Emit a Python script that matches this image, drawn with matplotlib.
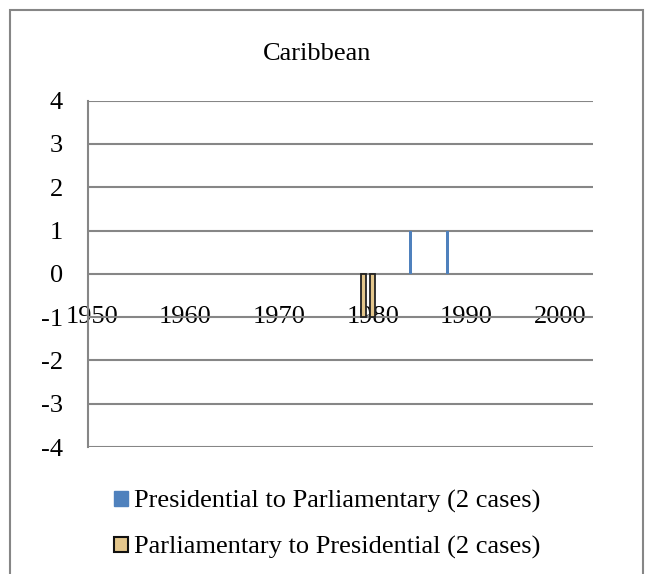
import matplotlib.pyplot as plt
from matplotlib.patches import Rectangle, Patch

plt.rcParams['font.family'] = ['Liberation Serif', 'DejaVu Serif']
plt.rcParams['axes.unicode_minus'] = False

title = 'Caribbean'
pres_to_parl_years = [1984, 1988]
pres_to_parl_vals = [1, 1]
parl_to_pres_years = [1979, 1980]
parl_to_pres_vals = [-1, -1]
label_a = 'Presidential to Parliamentary (2 cases)'
label_b = 'Parliamentary to Presidential (2 cases)'
xticks = [1950, 1960, 1970, 1980, 1990, 2000]
yticks = [-4, -3, -2, -1, 0, 1, 2, 3, 4]

blue = '#4F81BD'
tan = '#E3C68C'
grid = '#868686'
fs = 19

fig = plt.figure(figsize=(6.45, 5.74), dpi=100)
ax = fig.add_axes([88/645, 1-447/574, (593-88)/645, (447-100.7)/574])

ax.bar(pres_to_parl_years, pres_to_parl_vals, width=0.28, color=blue, zorder=3)
ax.bar(parl_to_pres_years, parl_to_pres_vals, width=0.5, color=tan,
       edgecolor='#222222', linewidth=1.3, zorder=3)

ax.set_xlim(1949.6, 2003.5)
ax.set_ylim(-4, 4)
ax.set_yticks(yticks)
ax.set_yticklabels([str(v) for v in yticks])
ax.set_xticks(xticks)
ax.set_xticklabels([str(v) for v in xticks])
ax.yaxis.grid(True, color=grid, linewidth=1.5, zorder=0)
ax.set_axisbelow(True)

for s in ['top', 'right', 'bottom']:
    ax.spines[s].set_visible(False)
ax.spines['left'].set_color(grid)
ax.spines['left'].set_linewidth(1.5)
ax.spines['bottom'].set_position(('data', -1))
ax.tick_params(axis='both', length=0, labelsize=fs)
ax.tick_params(axis='y', pad=18)
ax.tick_params(axis='x', pad=-8)

fig.text(317/645, 1-60/574, title, ha='center', va='baseline', fontsize=fs)

handles = [Patch(facecolor=blue, edgecolor=blue, label=label_a),
           Patch(facecolor=tan, edgecolor='#111111', linewidth=1.5, label=label_b)]
fig.legend(handles=handles, loc='upper left', bbox_to_anchor=(114/645, 1-490/574),
           frameon=False, fontsize=fs, handlelength=0.53, handleheight=0.53,
           handletextpad=0.23, labelspacing=0.88, borderpad=0, borderaxespad=0)

fig.patches.append(Rectangle((10/645, -0.05), 633/645, 1.05-10/574,
                             transform=fig.transFigure, fill=False,
                             edgecolor=grid, linewidth=1.5))

fig.savefig('out.png', dpi=100)
